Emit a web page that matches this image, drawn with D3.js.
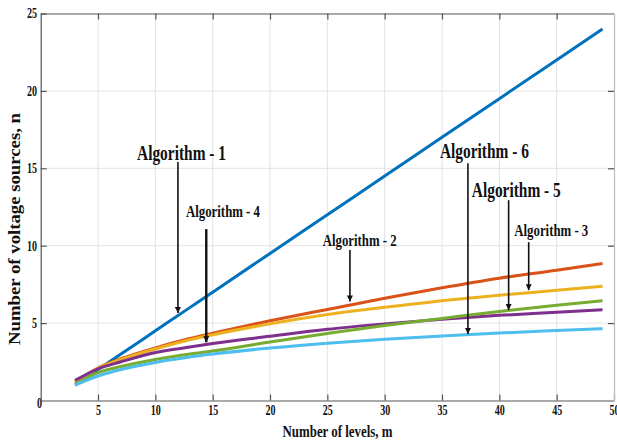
<!DOCTYPE html>
<html><head><meta charset="utf-8">
<script src="https://cdn.jsdelivr.net/npm/d3@7"></script>
<style>body{margin:0;background:#fff}svg{display:block}</style>
</head><body>
<script>
// ---- data ----
const levels = [3, 5, 7, 10, 13, 15, 20, 25, 30, 35, 40, 45, 49];
const alg1 = [1.0, 2.0, 3.0, 4.5, 6.0, 7.0, 9.5, 12.0, 14.5, 17.0, 19.5, 22.0, 24.0];
const alg2 = [1.2, 2.1, 2.7, 3.4, 4.0, 4.35, 5.15, 5.88, 6.6, 7.28, 7.9, 8.42, 8.85];
const alg3 = [1.15, 2.08, 2.65, 3.33, 3.92, 4.25, 4.95, 5.55, 6.02, 6.45, 6.8, 7.12, 7.38];
const alg4 = [1.3, 2.05, 2.5, 3.1, 3.45, 3.68, 4.15, 4.6, 4.95, 5.25, 5.5, 5.7, 5.86];
const alg5 = [1.05, 1.8, 2.2, 2.65, 3.0, 3.2, 3.78, 4.33, 4.85, 5.3, 5.75, 6.15, 6.44];
const alg6 = [1.0, 1.58, 2.0, 2.46, 2.81, 3.0, 3.39, 3.7, 3.95, 4.17, 4.36, 4.52, 4.64];
const seriesNames = ["Algorithm - 1", "Algorithm - 2", "Algorithm - 3", "Algorithm - 4", "Algorithm - 5", "Algorithm - 6"];
const seriesValues = [alg1, alg2, alg3, alg4, alg5, alg6];
const xTicks = [0, 5, 10, 15, 20, 25, 30, 35, 40, 45, 50];
const yTicks = [5, 10, 15, 20, 25];
const xTitle = "Number of levels, m";
const yTitle = "Number of voltage sources, n";
// annotations: label position (m, n) and arrow (m, from n, to n)
const annLabels = ["Algorithm - 1", "Algorithm - 4", "Algorithm - 2", "Algorithm - 6", "Algorithm - 5", "Algorithm - 3"];
const annLabelX = [12.28, 15.9, 27.82, 38.7, 41.48, 44.53];
const annLabelY = [15.56, 11.83, 9.97, 15.64, 13.16, 10.62];
const annArrowX = [11.97, 14.44, 26.97, 37.26, 40.81, 42.56];
const annArrowFrom = [15.4, 11.07, 9.72, 15.33, 12.94, 10.23];
const annArrowTo = [5.65, 3.76, 6.39, 4.3, 5.84, 7.13];

// ---- styles ----
const colors = ["#0072BD", "#D95319", "#EDB120", "#7E2F8E", "#77AC30", "#4DBEEE"];
const annBig = [true, false, false, true, true, false];
const annWidth = [89, 74, 74, 89, 89, 74];
const annStroke = [1.6, 2.4, 1.6, 1.6, 1.6, 1.6];
const font = "'Liberation Serif','Times New Roman',serif";

const W = 617, H = 442;
const svg = d3.select("body").append("svg").attr("width", W).attr("height", H);
const x = d3.scaleLinear().domain([0, 50]).range([40.7, 614]);
const y = d3.scaleLinear().domain([0, 25]).range([400.5, 13.5]);

// grid
const grid = svg.append("g").attr("stroke", "#e3e3e3").attr("stroke-width", 1);
grid.selectAll("line.v").data(xTicks.filter(d => d > 0 && d < 50)).join("line")
  .attr("x1", d => x(d)).attr("x2", d => x(d)).attr("y1", y(0)).attr("y2", y(25));
grid.selectAll("line.h").data(yTicks.filter(d => d < 25)).join("line")
  .attr("class", "h").attr("x1", x(0)).attr("x2", x(50)).attr("y1", d => y(d)).attr("y2", d => y(d));

// axes
function styleAxis(g) {
  g.select(".domain").attr("stroke", "#555").attr("stroke-width", 1.2);
  g.selectAll(".tick line").attr("stroke", "#555").attr("stroke-width", 1.2);
  g.selectAll(".tick text").attr("fill", "#111").attr("font-family", font)
    .attr("font-weight", "bold").attr("font-size", 14).attr("transform", "scale(0.72,1)");
}
const gx = svg.append("g").attr("transform", `translate(0,${y(0)})`)
  .call(d3.axisBottom(x).tickValues(xTicks).tickSizeInner(-6).tickSizeOuter(0).tickPadding(5).tickFormat(d3.format("d")))
  .call(styleAxis);
gx.selectAll(".tick").filter(d => d === 0).select("line").remove();
gx.selectAll(".tick").filter(d => d === 0).select("text").attr("y", -2).attr("x", -2.5);
const gy = svg.append("g").attr("transform", `translate(${x(0)},0)`)
  .call(d3.axisLeft(y).tickValues(yTicks).tickSizeInner(-6).tickSizeOuter(0).tickPadding(5).tickFormat(d3.format("d")))
  .call(styleAxis);
gy.select(".domain").attr("d", `M0.5,${y(0)}V${y(25)}`);
const gt = svg.append("g").attr("transform", `translate(0,${y(25)})`)
  .call(d3.axisTop(x).tickValues(xTicks.filter(d => d > 0 && d < 50)).tickSizeInner(-6).tickSizeOuter(0).tickFormat(""))
  .call(styleAxis);
const gr = svg.append("g").attr("transform", `translate(${x(50)},0)`)
  .call(d3.axisRight(y).tickValues(yTicks.filter(d => d < 25)).tickSizeInner(-6).tickSizeOuter(0).tickFormat(""))
  .call(styleAxis);
gr.select(".domain").attr("stroke", "#bbb");

// lines
const line = d3.line().x(d => x(d[0])).y(d => y(d[1])).curve(d3.curveMonotoneX);
svg.append("g").selectAll("path").data(seriesValues).join("path")
  .attr("d", vals => line(levels.map((m, i) => [m, vals[i]])))
  .attr("fill", "none").attr("stroke", (d, i) => colors[i]).attr("stroke-width", 3)
  .attr("stroke-linecap", "butt").attr("stroke-linejoin", "round");

// arrows
svg.append("defs").append("marker").attr("id", "arr").attr("markerUnits", "userSpaceOnUse")
  .attr("viewBox", "0 0 10 10").attr("refX", 10).attr("refY", 5)
  .attr("markerWidth", 9).attr("markerHeight", 6).attr("orient", "auto")
  .append("path").attr("d", "M0,0L10,5L0,10Z").attr("fill", "#111");
const ann = svg.append("g");
annLabels.forEach((lab, i) => {
  ann.append("line").attr("x1", x(annArrowX[i])).attr("x2", x(annArrowX[i]))
    .attr("y1", y(annArrowFrom[i])).attr("y2", y(annArrowTo[i]))
    .attr("stroke", "#111").attr("stroke-width", annStroke[i]).attr("marker-end", "url(#arr)");
  ann.append("text").attr("x", x(annLabelX[i])).attr("y", y(annLabelY[i]))
    .attr("text-anchor", "middle").attr("font-family", font).attr("font-weight", "bold")
    .attr("font-size", annBig[i] ? 22 : 16).attr("fill", "#111")
    .attr("textLength", annWidth[i]).attr("lengthAdjust", "spacingAndGlyphs").text(lab);
});

// titles
svg.append("text").attr("x", 337.5).attr("y", 437).attr("text-anchor", "middle")
  .attr("font-family", font).attr("font-weight", "bold").attr("font-size", 17).attr("fill", "#111")
  .attr("textLength", 110).attr("lengthAdjust", "spacingAndGlyphs").text(xTitle);
svg.append("text").attr("transform", "translate(20,229) rotate(-90)").attr("text-anchor", "middle")
  .attr("font-family", font).attr("font-weight", "bold").attr("font-size", 17).attr("fill", "#111")
  .attr("textLength", 232).attr("lengthAdjust", "spacingAndGlyphs").text(yTitle);
</script>
</body></html>
